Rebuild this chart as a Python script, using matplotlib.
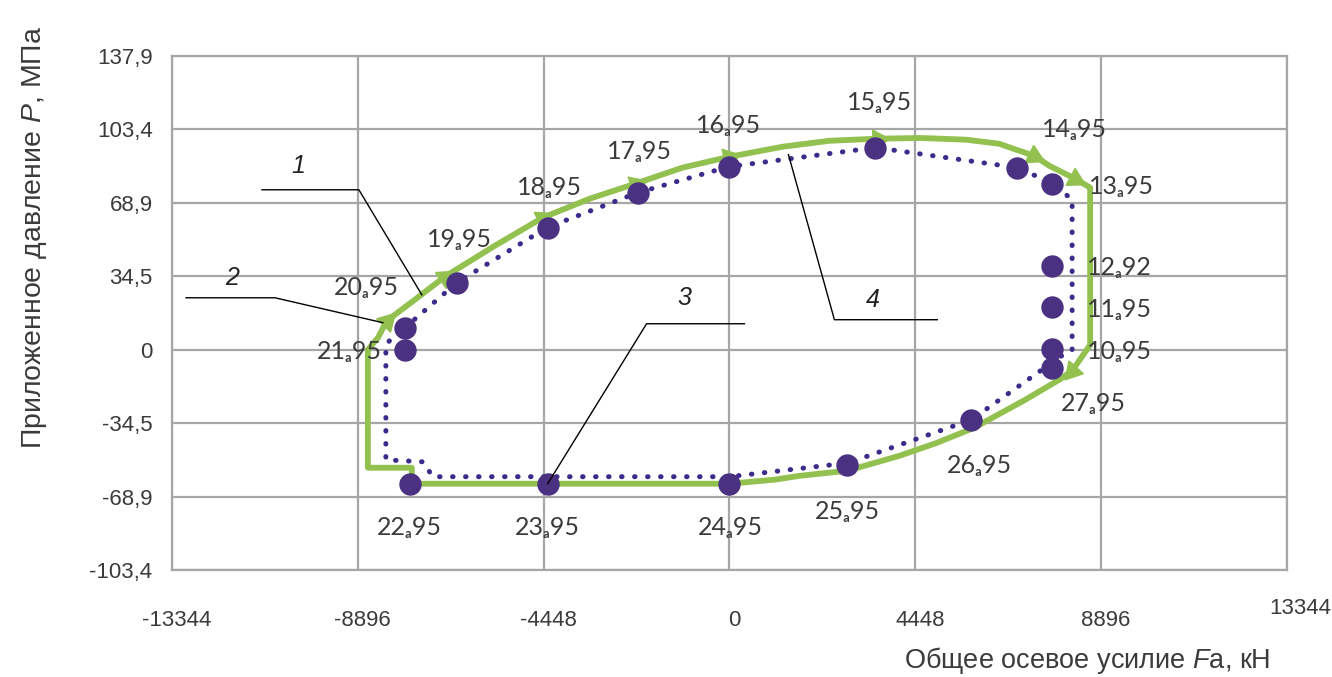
import numpy as np
import matplotlib
matplotlib.use("Agg")
import matplotlib.pyplot as plt
import matplotlib.transforms as mtransforms

plt.rcParams["mathtext.fontset"] = "custom"
plt.rcParams["mathtext.rm"] = "Liberation Sans"
plt.rcParams["mathtext.it"] = "Liberation Sans:italic"

# =====================================
# Data
# =====================================

x_ticks = [-13344, -8896, -4448, 0, 4448, 8896, 13344]
y_ticks = [-103.4, -68.9, -34.5, 0, 34.5, 68.9, 103.4, 137.9]
y_tick_labels = ["-103,4", "-68,9", "-34,5", "0", "34,5", "68,9", "103,4", "137,9"]

# purple points with labels
pt_num = ["10", "11", "12", "13", "14", "15", "16", "17", "18",
          "19", "20", "21", "22", "23", "24", "25", "26", "27"]
pt_suffix = ["95", "95", "92", "95", "95", "95", "95", "95", "95",
             "95", "95", "95", "95", "95", "95", "95", "95", "95"]
pt_x = [7723, 7723, 7723, 7723, 6886, 3491, 0, -2200, -4352,
        -6527, -7771, -7771, -7651, -4352, 0, 2821, 5786, 7723]
pt_y = [0.5, 20.2, 39.4, 78.0, 85.5, 94.9, 85.9, 73.7, 57.3,
        31.5, 10.3, 0.0, -62.9, -62.9, -62.9, -54.0, -32.9, -8.5]
# label offsets (pixels)
lab_dx = [67, 67, 67, 69, 57, 4, -1, 2, 2, 3, -38, -55, 0, 0, 1, 0, 8, 41]
lab_dy = [-3, -3, -2, -3, 38, 45, 41, 41, 40, 43, 40, -2, -44, -44, -44, -47, -46, -36]

# purple dotted line
dot_x = [-7771, -6527, -4376, -2200, -24, 3491, 6886, 7747, 8201, 8201,
         8082, 5786, 2845, 0, -7101, -7340, -8225, -8225, -8010, -7771]
dot_y = [10.3, 31.5, 57.3, 73.7, 85.9, 94.9, 85.5, 78.0, 70.4, 0.0,
         -1.0, -32.9, -53.1, -59.6, -59.6, -52.6, -51.7, 2.3, 7.0, 10.3]

# green solid line
green_x = [-8655, -8416, -8201, -7532, -6814, -5619, -4471, -3347, -2248, -1124,
           0, 1267, 2391, 3563, 4600, 5667, 6456, 6862, 7293, 7651,
           8273, 8632, 8632, 8201, 7890, 7077, 5858, 4950, 4065, 2821,
           1674, 1076, 0, -4352, -7603, -7603, -8655, -8655]
green_y = [0.0, 5.6, 13.6, 23.5, 34.3, 48.8, 62.0, 70.9, 78.0, 85.5,
           90.6, 95.3, 98.1, 99.1, 99.4, 98.6, 96.7, 93.9, 91.1, 86.4,
           80.3, 76.1, 2.3, -9.9, -14.1, -23.5, -36.6, -43.8, -49.8, -56.8,
           -59.2, -61.0, -62.9, -62.9, -62.9, -55.4, -55.4, 0.0]
green_arrows = [2, 4, 6, 8, 10, 13, 18, 20, 23]

# numbered callouts: label position and leader line points
callout_text = ["1", "2", "3", "4"]
callout_pos = [(-10311, 86.4), (-11907, 33.8), (-1076, 24.4), (3419, 23.5)]
callout_line = [
    [(-11190, 75.1), (-8871, 75.1), (-7364, 25.8)],
    [(-13007, 24.4), (-10879, 24.4), (-8297, 12.7)],
    [(359, 12.2), (-1985, 12.2), (-4352, -62.9)],
    [(1411, 91.6), (2511, 14.1), (4973, 14.1)],
]

# =====================================
# Plot
# =====================================

fig = plt.figure(figsize=(13.32, 6.77), dpi=100)
ax = fig.add_axes([172 / 1332, 1 - 570 / 677, 1115 / 1332, 514 / 677])

grid_col = "#a6a6a6"
green = "#92c150"
purple = "#4b3181"
txt_col = "#3b3b3b"

ax.set_xlim(-13344, 13344)
ax.set_ylim(-103.4, 137.9)
ax.set_xticks(x_ticks)
ax.set_xticklabels([str(v) for v in x_ticks])
ax.set_yticks(y_ticks)
ax.set_yticklabels(y_tick_labels)
ax.grid(True, color=grid_col, lw=1.6)
ax.set_axisbelow(True)
for s in ax.spines.values():
    s.set_color(grid_col)
    s.set_linewidth(1.6)
ax.tick_params(length=0, labelsize=16, colors=txt_col)
ax.tick_params(axis="x", pad=29)
ax.tick_params(axis="y", pad=14)
for lab in ax.get_xticklabels() + ax.get_yticklabels():
    lab.set_family("Liberation Sans")
# last x label sits a bit right and higher
xl = ax.get_xticklabels()
for lab in xl[:-1]:
    lab.set_transform(lab.get_transform() +
                      mtransforms.ScaledTranslation(5 / 100, 0, fig.dpi_scale_trans))
xl[-1].set_transform(xl[-1].get_transform() +
                     mtransforms.ScaledTranslation(13 / 100, 12 / 100, fig.dpi_scale_trans))

# green line
ax.plot(green_x, green_y, color=green, lw=4.2, solid_joinstyle="round",
        solid_capstyle="round", zorder=3)
gx = np.array(green_x, dtype=float)
gy = np.array(green_y, dtype=float)
for i in green_arrows:
    p0 = ax.transData.transform((gx[i - 1], gy[i - 1]))
    p1 = ax.transData.transform((gx[i + 1], gy[i + 1]))
    ang = np.degrees(np.arctan2(p1[1] - p0[1], p1[0] - p0[0])) - 90
    ax.plot(gx[i], gy[i], marker=(3, 0, ang), ms=16, color=green,
            mec=green, zorder=3)

# purple dotted line
ax.plot(dot_x, dot_y, color="#3d2b8c", lw=3.6, linestyle=(0, (0.1, 2.5)),
        dash_capstyle="round", zorder=4)

# purple points
ax.scatter(pt_x, pt_y, s=260, color=purple, zorder=5, linewidths=0)

for n, suf, x, y, dx, dy in zip(pt_num, pt_suffix, pt_x, pt_y, lab_dx, lab_dy):
    ax.annotate(n + "\u2090" + suf, (x, y), xytext=(dx, dy),
                textcoords="offset pixels", ha="center", va="center",
                fontsize=18, color=txt_col, family=["Lato", "DejaVu Sans"],
                zorder=6)

# callouts
for t, pos, line in zip(callout_text, callout_pos, callout_line):
    lx = [p[0] for p in line]
    ly = [p[1] for p in line]
    ax.plot(lx, ly, color="black", lw=1.0, zorder=6)
    ax.text(pos[0], pos[1], t, fontsize=18, style="italic", ha="center",
            va="center", family="Liberation Sans", color="#222222", zorder=6)

# axis titles
fig.text(35 / 1332, 1 - 237 / 677, "Приложенное давление $\\mathit{P}$, МПа",
         rotation=90, ha="center", va="center", fontsize=20.5,
         family="Liberation Sans", color=txt_col)
fig.text(1270 / 1332, 1 - 660 / 677, "Общее осевое усилие $\\mathit{F}$а, кН",
         ha="right", va="center", fontsize=19.5,
         family="Liberation Sans", color=txt_col)

fig.savefig("out.png", dpi=100)
